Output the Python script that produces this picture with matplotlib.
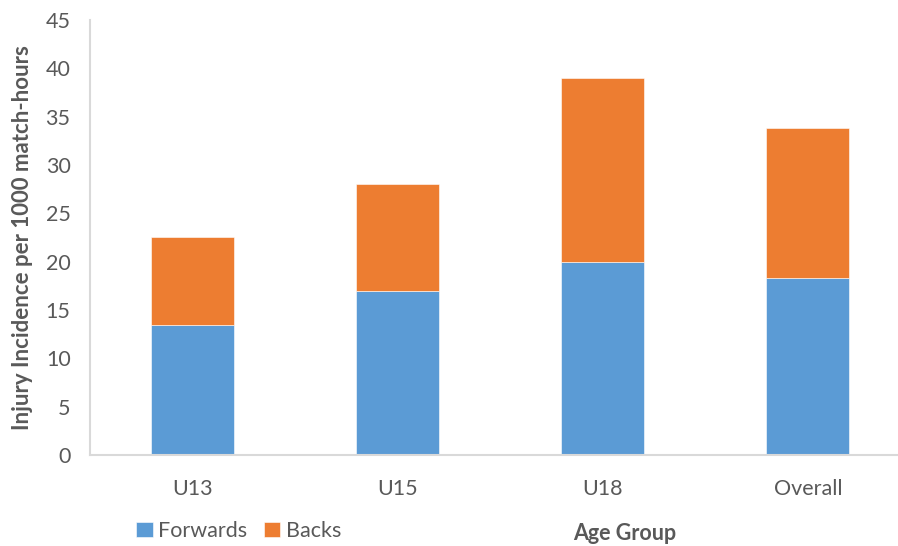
import numpy as np
import matplotlib.pyplot as plt

plt.rcParams['font.family'] = ['Lato', 'DejaVu Sans']

groups = ['U13', 'U15', 'U18', 'Overall']
forwards = [13.5, 17.0, 20.0, 18.3]
backs = [9.1, 11.0, 19.0, 15.5]
y_ticks = [0, 5, 10, 15, 20, 25, 30, 35, 40, 45]

BLUE = '#5B9BD5'
ORANGE = '#ED7D31'
TEXT = '#595959'
AXIS = '#D9D9D9'

fig = plt.figure(figsize=(8.98, 5.46), dpi=100)
ax = fig.add_axes([90 / 898, 91 / 546, 808 / 898, 435 / 546])

x = np.arange(len(groups))
width = 0.405
ax.bar(x, forwards, width, color=BLUE, edgecolor='white', linewidth=0.4, label='Forwards')
ax.bar(x, backs, width, bottom=forwards, color=ORANGE, edgecolor='white', linewidth=0.4,
       label='Backs')

ax.set_xlim(-0.5, 3.44)
ax.set_ylim(0, 45)
ax.set_xticks(x)
ax.set_xticklabels(groups)
ax.set_yticks(y_ticks)
ax.tick_params(axis='both', length=0, labelsize=15.5, colors=TEXT)
ax.tick_params(axis='x', pad=17)
ax.tick_params(axis='y', pad=14)

for side in ['top', 'right']:
    ax.spines[side].set_visible(False)
for side in ['left', 'bottom']:
    ax.spines[side].set_color(AXIS)
    ax.spines[side].set_linewidth(1.5)

ax.set_ylabel('Injury Incidence per 1000 match-hours', fontsize=16, fontweight='bold',
              color=TEXT)
ax.yaxis.set_label_coords(-0.07, 0.5)

fig.text(625 / 898, 1 - 534 / 546, 'Age Group', ha='center', va='center', fontsize=15.5,
         fontweight='bold', color=TEXT)

ax.legend(loc='center left', bbox_to_anchor=(117 / 898, 1 - 531 / 546),
          bbox_transform=fig.transFigure, ncol=2, frameon=False, fontsize=15.5,
          handlelength=0.75, handleheight=0.75, handletextpad=0.25, columnspacing=0.8,
          labelcolor=TEXT)

fig.savefig('out.png', dpi=100)
